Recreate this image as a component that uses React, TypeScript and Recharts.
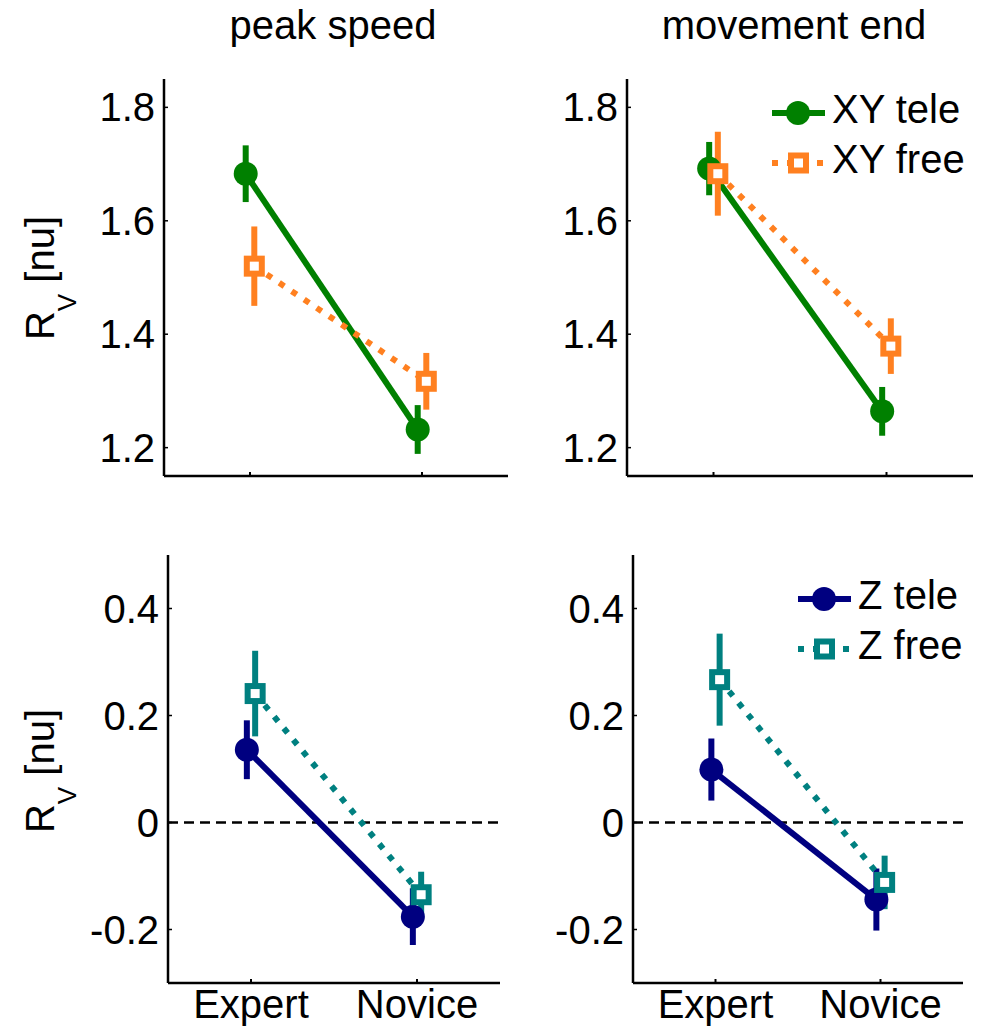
import { LineChart, Line, XAxis, YAxis, ErrorBar, ReferenceLine } from "recharts";

const groups = ["Expert", "Novice"];
const topTicks = [1.2, 1.4, 1.6, 1.8];
const bottomTicks = [-0.2, 0, 0.2, 0.4];

const peakXYTele = [1.683, 1.232];
const peakXYTeleErr = [0.05, 0.043];
const peakXYFree = [1.52, 1.317];
const peakXYFreeErr = [0.07, 0.05];

const endXYTele = [1.692, 1.264];
const endXYTeleErr = [0.047, 0.043];
const endXYFree = [1.683, 1.379];
const endXYFreeErr = [0.074, 0.049];

const peakZTele = [0.136, -0.176];
const peakZTeleErr = [0.055, 0.053];
const peakZFree = [0.241, -0.135];
const peakZFreeErr = [0.08, 0.043];

const endZTele = [0.099, -0.144];
const endZTeleErr = [0.058, 0.058];
const endZFree = [0.267, -0.112];
const endZFreeErr = [0.086, 0.05];

const FONT = "'Liberation Sans', Arial, Helvetica, sans-serif";
const GREEN = "#008000";
const ORANGE = "#ff8020";
const NAVY = "#000080";
const TEAL = "#008080";
const JITTER = 0.025;
const YW = 120;
const XH = 44;
const MT = 10;
const MR = 12;
const LW = 6;
const DOTS = "6 9";

// tele points sit a little left of the tick, free points a little right
const build = (vals: number[], errs: number[], shift: number) =>
  vals.map((v, i) => ({ x: i + 1 + shift, y: v, err: errs[i] }));

const circleDot = (color: string) => (p: any) => (
  <circle key={`c${p.index}`} cx={p.cx} cy={p.cy} r={12} fill={color} />
);

const squareDot = (color: string) => (p: any) => (
  <rect
    key={`s${p.index}`}
    x={p.cx - 7.5}
    y={p.cy - 7.5}
    width={15}
    height={15}
    fill="#fff"
    stroke={color}
    strokeWidth={6}
  />
);

const YTick = (props: any) => {
  const { x, y, payload } = props;
  return (
    <g>
      <line x1={x} x2={x + 4} y1={y} y2={y} stroke="#000" strokeWidth={1.5} />
      <text x={x - 9} y={y} dy={14} textAnchor="end" fontSize={40} fontFamily={FONT} fill="#000">
        {String(payload.value)}
      </text>
    </g>
  );
};

const makeXTick = (showLabels: boolean) => (props: any) => {
  const { x, y, payload } = props;
  return (
    <g>
      <line x1={x} x2={x} y1={y} y2={y - 4} stroke="#000" strokeWidth={2} />
      {showLabels && (
        <text x={x} y={y + 35} textAnchor="middle" fontSize={40} fontFamily={FONT} fill="#000">
          {groups[payload.value - 1]}
        </text>
      )}
    </g>
  );
};

type PanelProps = {
  left: number;
  top: number;
  w: number;
  h: number;
  domain: [number, number];
  ticks: number[];
  tele: { x: number; y: number; err: number }[];
  free: { x: number; y: number; err: number }[];
  teleColor: string;
  freeColor: string;
  bottom: boolean;
};

function Panel(p: PanelProps) {
  const width = YW + p.w + MR;
  const height = MT + p.h + XH;
  return (
    <div style={{ position: "absolute", left: p.left - YW, top: p.top - MT }}>
      <LineChart width={width} height={height} margin={{ top: MT, right: MR, left: 0, bottom: 0 }}>
        <XAxis
          type="number"
          dataKey="x"
          domain={[0.5, 2.5]}
          ticks={[1, 2]}
          allowDataOverflow
          height={XH}
          tickSize={0}
          tickMargin={0}
          tickLine={false}
          axisLine={{ stroke: "#000", strokeWidth: 2.5 }}
          tick={makeXTick(p.bottom)}
        />
        <YAxis
          type="number"
          domain={p.domain}
          ticks={p.ticks}
          allowDataOverflow
          width={YW}
          tickSize={0}
          tickMargin={0}
          tickLine={false}
          axisLine={{ stroke: "#000", strokeWidth: 2.5 }}
          tick={<YTick />}
        />
        {p.bottom && (
          <ReferenceLine y={0} stroke="#000" strokeWidth={2.5} strokeDasharray="10 6" />
        )}
        <Line
          data={p.tele}
          dataKey="y"
          stroke={p.teleColor}
          strokeWidth={LW}
          dot={circleDot(p.teleColor)}
          activeDot={false}
          isAnimationActive={false}
        >
          <ErrorBar dataKey="err" direction="y" width={0} stroke={p.teleColor} strokeWidth={LW} isAnimationActive={false} />
        </Line>
        <Line
          data={p.free}
          dataKey="y"
          stroke={p.freeColor}
          strokeWidth={LW}
          strokeDasharray={DOTS}
          dot={squareDot(p.freeColor)}
          activeDot={false}
          isAnimationActive={false}
        >
          <ErrorBar dataKey="err" direction="y" width={0} stroke={p.freeColor} strokeWidth={LW} isAnimationActive={false} />
        </Line>
      </LineChart>
    </div>
  );
}

function LegendBox(props: {
  left: number;
  top: number;
  teleColor: string;
  freeColor: string;
  teleLabel: string;
  freeLabel: string;
}) {
  const { left, top, teleColor, freeColor, teleLabel, freeLabel } = props;
  return (
    <svg style={{ position: "absolute", left, top: top - 12 }} width={240} height={130}>
      <g transform="translate(0,12)">
        <line x1={0} x2={53} y1={20} y2={20} stroke={teleColor} strokeWidth={LW} />
        <circle cx={26} cy={20} r={12} fill={teleColor} />
        <text x={60} y={30} fontSize={40} fontFamily={FONT} fill="#000">
          {teleLabel}
        </text>
        <line x1={0} x2={53} y1={70} y2={70} stroke={freeColor} strokeWidth={LW} strokeDasharray={DOTS} />
        <rect x={19} y={62.5} width={15} height={15} fill="#fff" stroke={freeColor} strokeWidth={6} />
        <text x={60} y={80} fontSize={40} fontFamily={FONT} fill="#000">
          {freeLabel}
        </text>
      </g>
    </svg>
  );
}

const titleStyle = (cx: number): React.CSSProperties => ({
  position: "absolute",
  left: cx - 200,
  top: 5,
  width: 400,
  textAlign: "center",
  fontSize: 40,
  lineHeight: "40px",
  fontFamily: FONT,
});

const yLabelStyle = (cy: number): React.CSSProperties => ({
  position: "absolute",
  left: 40 - 100,
  top: cy - 20,
  width: 200,
  height: 40,
  lineHeight: "40px",
  textAlign: "center",
  fontSize: 40,
  fontFamily: FONT,
  transform: "rotate(-90deg)",
  transformOrigin: "center",
  whiteSpace: "nowrap",
});

function YLabel({ cy }: { cy: number }) {
  return (
    <div style={yLabelStyle(cy)}>
      R<span style={{ fontSize: 26, position: "relative", top: 22 }}>V</span> [nu]
    </div>
  );
}

export default function App() {
  return (
    <div
      style={{
        position: "absolute",
        left: 0,
        top: 0,
        width: 985,
        height: 1027,
        overflow: "hidden",
        background: "#fff",
        fontFamily: FONT,
      }}
    >
      <div style={titleStyle(333)}>peak speed</div>
      <div style={titleStyle(794)}>movement end</div>
      <YLabel cy={278} />
      <YLabel cy={771} />

      <Panel
        left={164}
        top={79}
        w={344}
        h={397}
        domain={[1.15, 1.85]}
        ticks={topTicks}
        tele={build(peakXYTele, peakXYTeleErr, -JITTER)}
        free={build(peakXYFree, peakXYFreeErr, JITTER)}
        teleColor={GREEN}
        freeColor={ORANGE}
        bottom={false}
      />
      <Panel
        left={627}
        top={79}
        w={346}
        h={397}
        domain={[1.15, 1.85]}
        ticks={topTicks}
        tele={build(endXYTele, endXYTeleErr, -JITTER)}
        free={build(endXYFree, endXYFreeErr, JITTER)}
        teleColor={GREEN}
        freeColor={ORANGE}
        bottom={false}
      />
      <Panel
        left={168}
        top={555}
        w={332}
        h={428}
        domain={[-0.3, 0.5]}
        ticks={bottomTicks}
        tele={build(peakZTele, peakZTeleErr, -JITTER)}
        free={build(peakZFree, peakZFreeErr, JITTER)}
        teleColor={NAVY}
        freeColor={TEAL}
        bottom
      />
      <Panel
        left={633}
        top={555}
        w={330}
        h={428}
        domain={[-0.3, 0.5]}
        ticks={bottomTicks}
        tele={build(endZTele, endZTeleErr, -JITTER)}
        free={build(endZFree, endZFreeErr, JITTER)}
        teleColor={NAVY}
        freeColor={TEAL}
        bottom
      />

      <LegendBox left={772} top={93} teleColor={GREEN} freeColor={ORANGE} teleLabel="XY tele" freeLabel="XY free" />
      <LegendBox left={798} top={579} teleColor={NAVY} freeColor={TEAL} teleLabel="Z tele" freeLabel="Z free" />
    </div>
  );
}
